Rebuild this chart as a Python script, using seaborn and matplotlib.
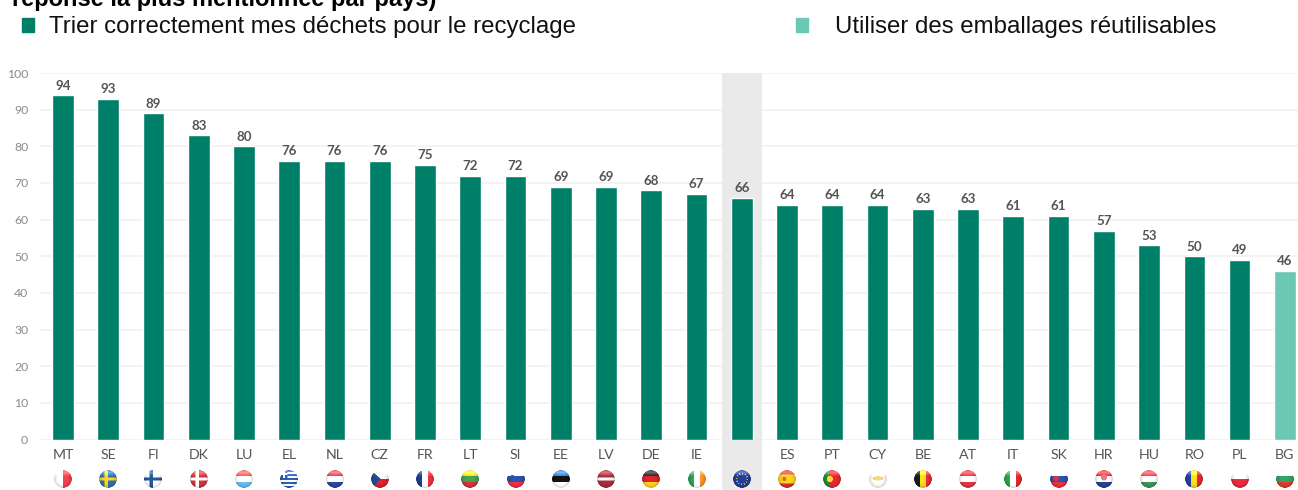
import numpy as np
import pandas as pd
import matplotlib
matplotlib.use("Agg")
import matplotlib.pyplot as plt
import seaborn as sns
from matplotlib.patches import Patch, Rectangle
from matplotlib.offsetbox import OffsetImage, AnnotationBbox

# Share of respondents per country
countries = ["MT", "SE", "FI", "DK", "LU", "EL", "NL", "CZ", "FR", "LT", "SI", "EE", "LV", "DE",
             "IE", "EU27", "ES", "PT", "CY", "BE", "AT", "IT", "SK", "HR", "HU", "RO", "PL", "BG"]
values = [94, 93, 89, 83, 80, 76, 76, 76, 75, 72, 72, 69, 69, 68,
          67, 66, 64, 64, 64, 63, 63, 61, 61, 57, 53, 50, 49, 46]
SORTING = "Trier correctement mes déchets pour le recyclage"
REUSE = "Utiliser des emballages réutilisables"
answers = [SORTING] * 27 + [REUSE]
heading = "réponse la plus mentionnée par pays)"

DARK = "#007F68"
LIGHT = "#6CC8B4"
TEXT_GREY = "#555555"

W, H = 1298, 490
sns.set_theme(style="white")
plt.rcParams["font.family"] = ["Lato", "DejaVu Sans"]

fig = plt.figure(figsize=(W / 100, H / 100), dpi=100, facecolor="white")
ax = fig.add_axes([40 / W, 1 - 439.5 / H, (W - 40) / W, (439.5 - 73) / H])

df = pd.DataFrame({"country": countries, "value": values, "answer": answers})
sns.barplot(data=df, x="country", y="value", hue="answer", hue_order=[SORTING, REUSE],
            palette={SORTING: DARK, REUSE: LIGHT}, dodge=False, width=0.48,
            legend=False, saturation=1, ax=ax, zorder=3)

ax.set_xlim(-0.508, 27.29)
ax.set_ylim(0, 100)
ax.set_xlabel("")
ax.set_ylabel("")
ax.set_yticks(range(0, 101, 10))
ax.set_axisbelow(True)
ax.grid(axis="y", color="#F0F0F0", lw=1.1)
ax.grid(axis="x", visible=False)
sns.despine(ax=ax, left=True, bottom=True, top=True, right=True)
ax.tick_params(axis="x", length=0, pad=7, labelsize=10.2, labelcolor=TEXT_GREY)
ax.tick_params(axis="y", length=0, pad=8.5, labelsize=8.8, labelcolor="#8A8A8A")

# Shaded band behind the EU average, running down through the flag row
eu_index = countries.index("EU27")
ax.add_patch(Rectangle((eu_index - 0.44, -0.14), 0.88, 1.14,
                       transform=ax.get_xaxis_transform(), facecolor="#EAEAEA",
                       edgecolor="none", zorder=1, clip_on=False))

for container in ax.containers:
    ax.bar_label(container, fmt="%d", padding=2.5, fontsize=9.6, fontweight="bold", color=TEXT_GREY)


# Flag painting on a unit square, then cut to a shaded disc
def h_stripes(cols, ws=None):
    def paint(x, y, img):
        edges = np.cumsum(ws if ws else [1 / len(cols)] * len(cols))
        for c, e in zip(reversed(cols), reversed(edges)):
            img[y < e] = matplotlib.colors.to_rgb(c)
    return paint


def v_stripes(cols):
    def paint(x, y, img):
        edges = np.cumsum([1 / len(cols)] * len(cols))
        for c, e in zip(reversed(cols), reversed(edges)):
            img[x < e] = matplotlib.colors.to_rgb(c)
    return paint


def nordic(bg, cross):
    def paint(x, y, img):
        img[:] = matplotlib.colors.to_rgb(bg)
        img[(np.abs(x - 0.4) < 0.09) | (np.abs(y - 0.5) < 0.09)] = matplotlib.colors.to_rgb(cross)
    return paint


def with_dot(base, colour, cx, cy, r):
    def paint(x, y, img):
        base(x, y, img)
        img[(x - cx) ** 2 + (y - cy) ** 2 < r ** 2] = matplotlib.colors.to_rgb(colour)
    return paint


def greece(x, y, img):
    h_stripes(["#2A5CA8", "#FFFFFF"] * 4 + ["#2A5CA8"])(x, y, img)
    img[(x < 0.42) & (y < 0.45)] = matplotlib.colors.to_rgb("#2A5CA8")
    img[(x < 0.42) & (y < 0.45) & ((np.abs(x - 0.21) < 0.05) | (np.abs(y - 0.22) < 0.05))] = (1, 1, 1)


def czech(x, y, img):
    h_stripes(["#F2F2F2", "#D0202E"])(x, y, img)
    img[x < 0.55 * (1 - np.abs(y - 0.5) * 2)] = matplotlib.colors.to_rgb("#1E4A8C")


def europe(x, y, img):
    img[:] = matplotlib.colors.to_rgb("#1F3A93")
    r = np.hypot(x - 0.5, y - 0.5)
    ang = np.mod(np.arctan2(y - 0.5, x - 0.5), np.pi / 6)
    img[(np.abs(r - 0.3) < 0.045) & (ang < 0.22)] = matplotlib.colors.to_rgb("#C9B53A")


def cyprus(x, y, img):
    img[:] = matplotlib.colors.to_rgb("#F7F6F0")
    img[((x - 0.5) / 0.3) ** 2 + ((y - 0.47) / 0.12) ** 2 < 1] = matplotlib.colors.to_rgb("#E5C77A")


flags = {
    "MT": v_stripes(["#F7F7F7", "#E2404A"]),
    "SE": nordic("#2C6BAA", "#F4C91E"),
    "FI": nordic("#FAFAFA", "#24508F"),
    "DK": nordic("#C8323C", "#FFFFFF"),
    "LU": h_stripes(["#E0524F", "#FFFFFF", "#62B7E6"]),
    "EL": greece,
    "NL": h_stripes(["#C8404A", "#FFFFFF", "#28479A"]),
    "CZ": czech,
    "FR": v_stripes(["#1E3A8C", "#FFFFFF", "#E0303C"]),
    "LT": h_stripes(["#F5C81E", "#3F9A48", "#C8323C"]),
    "SI": with_dot(h_stripes(["#F7F7F7", "#2A4CA8", "#E0303C"]), "#2A4CA8", 0.3, 0.4, 0.12),
    "EE": h_stripes(["#2E78C0", "#111111", "#FAFAFA"]),
    "LV": h_stripes(["#A02C38", "#F7F7F7", "#A02C38"], [0.42, 0.16, 0.42]),
    "DE": h_stripes(["#222222", "#D0202E", "#F6C91E"]),
    "IE": v_stripes(["#2E9A55", "#FAFAFA", "#F28C28"]),
    "EU27": europe,
    "ES": with_dot(h_stripes(["#D0302C", "#F5C81E", "#D0302C"], [0.25, 0.5, 0.25]), "#C8602C", 0.36, 0.5, 0.11),
    "PT": with_dot(v_stripes(["#2A7F3E", "#D8282E", "#D8282E"]), "#EFC92E", 0.38, 0.5, 0.17),
    "CY": cyprus,
    "BE": v_stripes(["#1A1A1A", "#F6CF1E", "#DE2A32"]),
    "AT": h_stripes(["#D8343C", "#FAFAFA", "#D8343C"]),
    "IT": v_stripes(["#2E9A4E", "#FAFAFA", "#D8282E"]),
    "SK": with_dot(h_stripes(["#F5F5F5", "#2A4CA8", "#E0303C"]), "#D0303A", 0.33, 0.47, 0.15),
    "HR": with_dot(h_stripes(["#D8303C", "#F5F5F5", "#24408F"]), "#D87078", 0.5, 0.42, 0.17),
    "HU": h_stripes(["#D8404A", "#F8F8F8", "#3A8F58"]),
    "RO": v_stripes(["#1F3F9A", "#F6CF1E", "#D8282E"]),
    "PL": h_stripes(["#F8F8F8", "#DC2A3C"]),
    "BG": h_stripes(["#F5F5F5", "#2F9A62", "#D8382E"]),
}


def flag_image(painter, n=72):
    ys, xs = np.mgrid[0:n, 0:n]
    x, y = (xs + 0.5) / n, (ys + 0.5) / n
    rgb = np.ones((n, n, 3))
    painter(x, y, rgb)
    r = np.hypot(x - 0.5, y - 0.5) * 2
    shade = np.clip(1.08 - 0.25 * r ** 3, 0, 1.1)[..., None]
    sheen = np.clip(1 - np.abs(y - 0.12) / 0.22, 0, 1)[..., None] * 0.3
    rgb = np.clip(rgb * shade + sheen, 0, 1)
    alpha = np.clip((1 - r) * n / 3, 0, 1)
    return np.dstack([rgb, alpha])


for i, code in enumerate(countries):
    box = OffsetImage(flag_image(flags[code]), zoom=0.25, dpi_cor=False)
    ab = AnnotationBbox(box, (i, 0), xycoords=("data", "axes fraction"), xybox=(0, -40),
                        boxcoords="offset pixels", frameon=False, pad=0, annotation_clip=False,
                        zorder=4)
    ax.add_artist(ab)

# Two separately placed legend entries above the plot
legend_font = {"family": "Liberation Sans", "size": 17.3}
first = fig.legend(handles=[Patch(color=DARK, label=SORTING)], loc="center left",
                   bbox_to_anchor=(22 / W, 1 - 27.5 / H), frameon=False, prop=legend_font,
                   handlelength=0.5, handleheight=0.5, handletextpad=0.64, borderpad=0, borderaxespad=0)
second = fig.legend(handles=[Patch(color=LIGHT, label=REUSE)], loc="center left",
                    bbox_to_anchor=(796 / W, 1 - 27.5 / H), frameon=False, prop=legend_font,
                    handlelength=0.5, handleheight=0.5, handletextpad=1.14, borderpad=0, borderaxespad=0)
for leg in (first, second):
    for t in leg.get_texts():
        t.set_color("#111111")

fig.text(12 / W, 1 - 6 / H, heading, family="Liberation Sans", fontweight="bold", fontsize=17,
         color="#000000", va="baseline", ha="left")

fig.savefig("out.png", dpi=100, facecolor="white")
